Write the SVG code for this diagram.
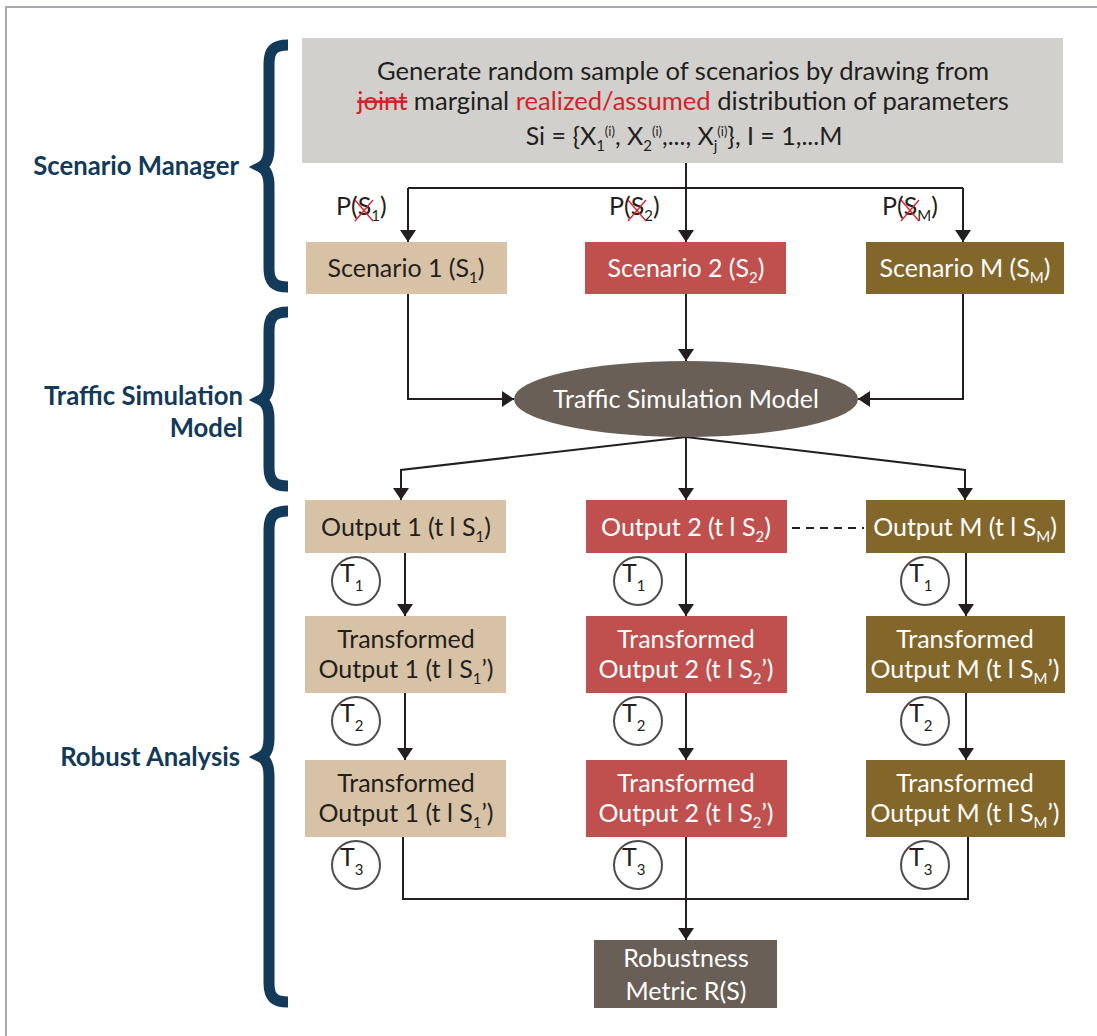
<svg xmlns="http://www.w3.org/2000/svg" width="1097" height="1036" viewBox="0 0 1097 1036">
<defs>
<style>
text{font-family:Lato,"Open Sans","Liberation Sans",sans-serif;font-size:25px;fill:#231f20}
.w{fill:#fff}
.c{text-anchor:middle}
.big{font-size:25.6px}
.hd{font-weight:bold;fill:#133a58;font-size:25.7px;text-anchor:end}
.sb{font-size:15px}
.sp{font-size:13px}
.red{fill:#d2232a}
.ln{stroke:#231f20;stroke-width:2;fill:none}
.arr{marker-end:url(#ah)}
.xr{stroke:#e0242b;stroke-width:1.4}
.br{stroke:#133a58;stroke-width:11;fill:none;stroke-linejoin:miter;stroke-miterlimit:10}
.tc{fill:#fff;stroke:#4d4d4d;stroke-width:2}
.tan{fill:#d7c2a5}
.rd{fill:#c0504e}
.ol{fill:#83672a}
.dk{fill:#6a5f56}
</style>
<marker id="ah" viewBox="0 0 12 16" refX="12" refY="8" markerWidth="12" markerHeight="16" markerUnits="userSpaceOnUse" orient="auto">
<path d="M0,0 L12,8 L0,16 z" fill="#231f20"/>
</marker>
</defs>

<!-- page frame -->
<path d="M6,1036 V7 H1097" fill="none" stroke="#a7a9ac" stroke-width="2"/>

<!-- section braces and titles -->
<g id="sec-scenario-manager">
<path class="br" d="M288,45 C274,45 269,50 269,64 L269,148 C269,158 267,164 261,167 C267,170 269,176 269,186 L269,268 C269,282 274,287 288,287"/>
<text class="hd" x="239" y="175">Scenario Manager</text>
</g>
<g id="sec-traffic-model">
<path class="br" d="M288,312 C274,312 269,317 269,331 L269,381 C269,391 267,397 261,400 C267,403 269,409 269,419 L269,467 C269,481 274,486 288,486"/>
<text class="hd" x="243" y="405">Traffic Simulation</text>
<text class="hd" x="243" y="437">Model</text>
</g>
<g id="sec-robust-analysis">
<path class="br" d="M288,511 C274,511 269,516 269,530 L269,738 C269,748 267,754 261,757 C267,760 269,766 269,776 L269,983 C269,997 274,1002 288,1002"/>
<text class="hd" x="240" y="766">Robust Analysis</text>
</g>

<!-- connectors -->
<g id="connectors">
<path class="ln" d="M686,163 V188 M408,188 H963"/>
<path class="ln arr" d="M408,188 V242"/>
<path class="ln arr" d="M686,188 V242"/>
<path class="ln arr" d="M963,188 V242"/>
<path class="ln arr" d="M408,294 V399 H514"/>
<path class="ln arr" d="M686,294 V361"/>
<path class="ln arr" d="M963,294 V399 H858"/>
<path class="ln arr" d="M686,437 L401,470 V500"/>
<path class="ln arr" d="M686,437 V500"/>
<path class="ln arr" d="M686,437 L965,470 V500"/>
<path class="ln" d="M792,528 H864" stroke-dasharray="8 6"/>
<path class="ln arr" d="M405,553 V616"/>
<path class="ln arr" d="M686,553 V616"/>
<path class="ln arr" d="M966,553 V616"/>
<path class="ln arr" d="M405,693 V760"/>
<path class="ln arr" d="M686,693 V760"/>
<path class="ln arr" d="M966,693 V760"/>
<path class="ln" d="M403,837 V899 H968 V837"/>
<path class="ln arr" d="M686,837 V940"/>
</g>

<!-- sampling step -->
<g id="sample-box">
<rect x="302" y="38" width="761" height="125" fill="#d1d0cc"/>
<text class="c big" x="683" y="80">Generate random sample of scenarios by drawing from</text>
<text class="c big" x="683" y="110"><tspan class="red" text-decoration="line-through">joint</tspan> marginal <tspan class="red">realized/assumed</tspan> distribution of parameters</text>
<text class="c" x="684" y="145">Si = {X<tspan class="sb" dy="6">1</tspan><tspan class="sp" dy="-15">(i)</tspan><tspan dy="9">, X</tspan><tspan class="sb" dy="6">2</tspan><tspan class="sp" dy="-15">(i)</tspan><tspan dy="9">,..., X</tspan><tspan class="sb" dy="6">j</tspan><tspan class="sp" dy="-15">(i)</tspan><tspan dy="9">}, I = 1,...M</tspan></text>
</g>

<!-- scenario probabilities -->
<g id="prob-1">
<text x="336" y="215">P(S<tspan class="sb" dy="6">1</tspan><tspan dy="-6">)</tspan></text>
<path class="xr" d="M355,200 L373,221 M373,200 L355,221"/>
</g>
<g id="prob-2">
<text x="609" y="215">P(S<tspan class="sb" dy="6">2</tspan><tspan dy="-6">)</tspan></text>
<path class="xr" d="M628,200 L646,221 M646,200 L628,221"/>
</g>
<g id="prob-m">
<text x="882" y="215">P(S<tspan class="sb" dy="6">M</tspan><tspan dy="-6">)</tspan></text>
<path class="xr" d="M901,200 L919,221 M919,200 L901,221"/>
</g>

<!-- scenarios -->
<g id="scenario-1">
<rect class="tan" x="306" y="242" width="201" height="52"/>
<text class="c" x="406" y="277">Scenario 1 (S<tspan class="sb" dy="6">1</tspan><tspan dy="-6">)</tspan></text>
</g>
<g id="scenario-2">
<rect class="rd" x="585" y="242" width="201" height="52"/>
<text class="c w" x="686" y="277">Scenario 2 (S<tspan class="sb" dy="6">2</tspan><tspan dy="-6">)</tspan></text>
</g>
<g id="scenario-m">
<rect class="ol" x="866" y="242" width="198" height="52"/>
<text class="c w" x="965" y="277">Scenario M (S<tspan class="sb" dy="6">M</tspan><tspan dy="-6">)</tspan></text>
</g>

<!-- simulation model -->
<g id="traffic-model">
<ellipse class="dk" cx="686" cy="399" rx="172" ry="38"/>
<text class="c w" x="686" y="408">Traffic Simulation Model</text>
</g>

<!-- outputs -->
<g id="output-1">
<rect class="tan" x="305" y="500" width="201" height="53"/>
<text class="c" x="406" y="536">Output 1 (t l S<tspan class="sb" dy="6">1</tspan><tspan dy="-6">)</tspan></text>
</g>
<g id="output-2">
<rect class="rd" x="586" y="500" width="201" height="53"/>
<text class="c w" x="686" y="536">Output 2 (t l S<tspan class="sb" dy="6">2</tspan><tspan dy="-6">)</tspan></text>
</g>
<g id="output-m">
<rect class="ol" x="866" y="500" width="199" height="53"/>
<text class="c w" x="965" y="536">Output M (t l S<tspan class="sb" dy="6">M</tspan><tspan dy="-6">)</tspan></text>
</g>

<!-- first transformation -->
<g id="t1-1"><circle class="tc" cx="356" cy="581" r="24"/><text x="340" y="582">T<tspan class="sb" dy="9">1</tspan></text></g>
<g id="t1-2"><circle class="tc" cx="638" cy="581" r="24"/><text x="622" y="582">T<tspan class="sb" dy="9">1</tspan></text></g>
<g id="t1-m"><circle class="tc" cx="925" cy="581" r="24"/><text x="909" y="582">T<tspan class="sb" dy="9">1</tspan></text></g>

<g id="transformed-a-1">
<rect class="tan" x="305" y="616" width="201" height="77"/>
<text class="c" x="406" y="648">Transformed</text>
<text class="c" x="406" y="678">Output 1 (t l S<tspan class="sb" dy="6">1</tspan><tspan dy="-6">’)</tspan></text>
</g>
<g id="transformed-a-2">
<rect class="rd" x="586" y="616" width="201" height="77"/>
<text class="c w" x="686" y="648">Transformed</text>
<text class="c w" x="686" y="678">Output 2 (t l S<tspan class="sb" dy="6">2</tspan><tspan dy="-6">’)</tspan></text>
</g>
<g id="transformed-a-m">
<rect class="ol" x="866" y="616" width="199" height="77"/>
<text class="c w" x="965" y="648">Transformed</text>
<text class="c w" x="965" y="678">Output M (t l S<tspan class="sb" dy="6">M</tspan><tspan dy="-6">’)</tspan></text>
</g>

<!-- second transformation -->
<g id="t2-1"><circle class="tc" cx="356" cy="721" r="24"/><text x="340" y="722">T<tspan class="sb" dy="9">2</tspan></text></g>
<g id="t2-2"><circle class="tc" cx="638" cy="721" r="24"/><text x="622" y="722">T<tspan class="sb" dy="9">2</tspan></text></g>
<g id="t2-m"><circle class="tc" cx="925" cy="721" r="24"/><text x="909" y="722">T<tspan class="sb" dy="9">2</tspan></text></g>

<g id="transformed-b-1">
<rect class="tan" x="305" y="760" width="201" height="77"/>
<text class="c" x="406" y="792">Transformed</text>
<text class="c" x="406" y="822">Output 1 (t l S<tspan class="sb" dy="6">1</tspan><tspan dy="-6">’)</tspan></text>
</g>
<g id="transformed-b-2">
<rect class="rd" x="586" y="760" width="201" height="77"/>
<text class="c w" x="686" y="792">Transformed</text>
<text class="c w" x="686" y="822">Output 2 (t l S<tspan class="sb" dy="6">2</tspan><tspan dy="-6">’)</tspan></text>
</g>
<g id="transformed-b-m">
<rect class="ol" x="866" y="760" width="199" height="77"/>
<text class="c w" x="965" y="792">Transformed</text>
<text class="c w" x="965" y="822">Output M (t l S<tspan class="sb" dy="6">M</tspan><tspan dy="-6">’)</tspan></text>
</g>

<!-- third transformation -->
<g id="t3-1"><circle class="tc" cx="356" cy="865" r="24"/><text x="340" y="866">T<tspan class="sb" dy="9">3</tspan></text></g>
<g id="t3-2"><circle class="tc" cx="638" cy="865" r="24"/><text x="622" y="866">T<tspan class="sb" dy="9">3</tspan></text></g>
<g id="t3-m"><circle class="tc" cx="925" cy="865" r="24"/><text x="909" y="866">T<tspan class="sb" dy="9">3</tspan></text></g>

<!-- result -->
<g id="robustness-metric">
<rect class="dk" x="594" y="940" width="183" height="68"/>
<text class="c w" x="686" y="967">Robustness</text>
<text class="c w" x="686" y="1000">Metric R(S)</text>
</g>
</svg>
